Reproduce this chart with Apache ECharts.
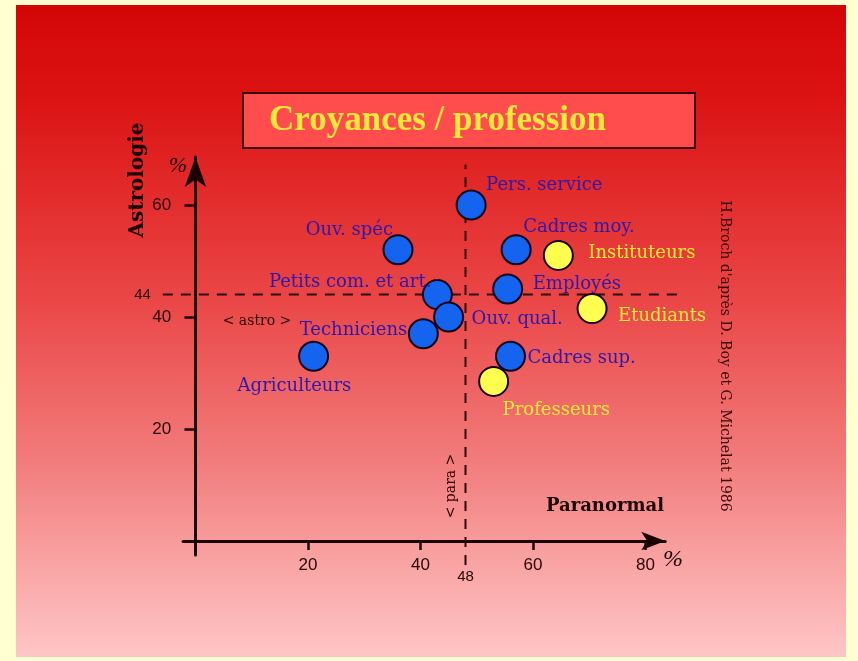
<!DOCTYPE html>
<html><head><meta charset="utf-8">
<script src="https://cdn.jsdelivr.net/npm/echarts@6/dist/echarts.min.js"></script>
<style>html,body{margin:0;padding:0;background:#FFFFD2}#c{width:858px;height:661px}</style>
</head><body><div id="c"></div>
<script>
// ---- data ----
const categories = ['Pers. service','Ouv. spéc','Cadres moy.','Instituteurs','Petits com. et art.','Employés','Ouv. qual.','Etudiants','Techniciens','Agriculteurs','Cadres sup.','Professeurs'];
const paranormal = [49, 36, 57, 64.5, 43, 55.5, 45, 70.5, 40.5, 21, 56, 53];
const astrologie = [60, 52, 52, 51, 44, 45, 40, 41.5, 37, 33, 33, 28.5];
const groups = ['autres','autres','autres','enseignement','autres','autres','autres','enseignement','autres','autres','autres','enseignement'];
const xTicks = [20, 40, 60, 80];
const yTicks = [20, 40, 60];
const meanPara = 48;
const meanAstro = 44;
// extent of the dashed mean lines, in axis units
const meanParaSpan = [-4.3, 67.2];
const meanAstroSpan = [-5.8, 86.7];

// ---- label placement (layout, not data) ----
const labelLayout = {
  'Pers. service': ['left', 15, -20],
  'Ouv. spéc': ['right', -5, -19],
  'Cadres moy.': ['left', 7, -22],
  'Instituteurs': ['left', 30, -2],
  'Petits com. et art.': ['right', -6, -12],
  'Employés': ['left', 25, -5],
  'Ouv. qual.': ['left', 23, 2],
  'Etudiants': ['left', 26, 8],
  'Techniciens': ['right', -16, -3],
  'Agriculteurs': ['left', -76, 30],
  'Cadres sup.': ['left', 17, 2],
  'Professeurs': ['left', 9, 29]
};

function seriesData(group) {
  const out = [];
  categories.forEach((c, i) => {
    if (groups[i] !== group) return;
    const l = labelLayout[c];
    out.push({ name: c, value: [paranormal[i], astrologie[i]],
      label: { align: l[0], offset: [l[1], l[2]] } });
  });
  return out;
}

const axisColor = '#1a0000';
const labelFont = '"DejaVu Serif", "Liberation Serif", serif';

const meanLines = [
  [meanAstroSpan[0], meanAstro, meanAstroSpan[1], meanAstro, String(meanAstro)],
  [meanPara, meanParaSpan[0], meanPara, meanParaSpan[1], String(meanPara)]
];

const chart = echarts.init(document.getElementById('c'), null, { renderer: 'canvas' });
chart.setOption({
  animation: false,
  backgroundColor: '#FFFFD2',
  grid: { left: 183.1, right: 192.8, top: 157, bottom: 106, containLabel: false },
  xAxis: {
    type: 'value', min: -2.2, max: 83.5,
    axisLine: { onZero: true, symbol: ['none', 'arrow'], symbolSize: [14, 24],
      lineStyle: { color: axisColor, width: 3 } },
    axisTick: { customValues: xTicks, length: 9, lineStyle: { color: axisColor, width: 2.5 } },
    axisLabel: { customValues: xTicks, margin: 2, color: '#2a0505',
      fontFamily: '"Liberation Sans", Arial, sans-serif', fontSize: 17 },
    splitLine: { show: false }
  },
  yAxis: {
    type: 'value', min: -2.5, max: 68.57,
    axisLine: { onZero: true, symbol: ['none', 'arrow'], symbolSize: [16, 30],
      lineStyle: { color: axisColor, width: 3 } },
    axisTick: { customValues: yTicks, length: 11, lineStyle: { color: axisColor, width: 2.5 } },
    axisLabel: { customValues: yTicks, margin: 12, color: '#2a0505',
      fontFamily: '"Liberation Sans", Arial, sans-serif', fontSize: 17 },
    splitLine: { show: false }
  },
  graphic: [
    { type: 'rect', z: -10, shape: { x: 16, y: 5, width: 830, height: 652 },
      style: { fill: new echarts.graphic.LinearGradient(0, 0, 0, 1, [
        { offset: 0, color: '#D30606' }, { offset: 0.15, color: '#DC1414' },
        { offset: 0.45, color: '#EA4646' }, { offset: 0.7, color: '#F27C7C' },
        { offset: 0.85, color: '#F9A2A2' }, { offset: 1, color: '#FFC6C6' }]) } },
    { type: 'rect', z: 50, shape: { x: 243, y: 93, width: 452, height: 55 },
      style: { fill: '#FF4C4C', stroke: '#3a0000', lineWidth: 2 } },
    { type: 'text', z: 60, x: 269, y: 121,
      style: { text: 'Croyances / profession', font: 'bold 35px "Liberation Serif", serif',
        fill: '#FFE83A', align: 'left', verticalAlign: 'middle' } },
    { type: 'text', z: 60, x: 138, y: 180, rotation: Math.PI / 2,
      style: { text: 'Astrologie', font: 'bold 20px "DejaVu Serif", serif',
        fill: '#1a0000', align: 'center', verticalAlign: 'middle' } },
    { type: 'text', z: 60, x: 178, y: 166,
      style: { text: '%', font: 'italic 22px "Liberation Serif", serif',
        fill: '#1a0000', align: 'center', verticalAlign: 'middle' } },
    { type: 'text', z: 60, x: 673, y: 560,
      style: { text: '%', font: 'italic 24px "Liberation Serif", serif',
        fill: '#1a0000', align: 'center', verticalAlign: 'middle' } },
    { type: 'text', z: 60, x: 605, y: 506,
      style: { text: 'Paranormal', font: 'bold 18px "DejaVu Serif", serif',
        fill: '#1a0000', align: 'center', verticalAlign: 'middle' } },
    { type: 'text', z: 60, x: 257, y: 321,
      style: { text: '< astro >', font: '14px "DejaVu Serif", serif',
        fill: '#2a0505', align: 'center', verticalAlign: 'middle' } },
    { type: 'text', z: 60, x: 451, y: 486, rotation: Math.PI / 2,
      style: { text: '< para >', font: '14px "DejaVu Serif", serif',
        fill: '#2a0505', align: 'center', verticalAlign: 'middle' } },
    { type: 'text', z: 60, x: 725, y: 356, rotation: -Math.PI / 2,
      style: { text: "H.Broch d'après D. Boy et G. Michelat 1986", font: '14px "DejaVu Serif", serif',
        fill: '#3a0808', align: 'center', verticalAlign: 'middle' } }
  ],
  series: [
    {
      type: 'custom', name: 'moyennes', clip: false, silent: true, z: 1,
      encode: { x: [0, 2], y: [1, 3] },
      data: meanLines,
      renderItem: function (params, api) {
        const p1 = api.coord([api.value(0), api.value(1)]);
        const p2 = api.coord([api.value(2), api.value(3)]);
        const horizontal = Math.abs(p1[1] - p2[1]) < 1;
        return {
          type: 'group',
          children: [
            { type: 'line', shape: { x1: p1[0], y1: p1[1], x2: p2[0], y2: p2[1] },
              style: { stroke: '#2a0606', lineWidth: 2, lineDash: [10, 8] } },
            { type: 'text',
              x: horizontal ? p1[0] - 12 : p1[0],
              y: horizontal ? p1[1] : p1[1] + 4,
              style: { text: api.value(4), fill: '#2a0505',
                font: '15px "Liberation Sans", Arial, sans-serif',
                align: horizontal ? 'right' : 'center',
                verticalAlign: horizontal ? 'middle' : 'top' } }
          ]
        };
      }
    },
    {
      type: 'scatter', name: 'autres', clip: false, symbolSize: 29, z: 3,
      itemStyle: { color: '#1464F0', borderColor: '#180018', borderWidth: 2, opacity: 1 },
      label: { show: true, position: 'inside', formatter: p => p.name, color: '#3018AC',
        fontFamily: labelFont, fontSize: 18, verticalAlign: 'middle' },
      data: seriesData('autres')
    },
    {
      type: 'scatter', name: 'enseignement', clip: false, symbolSize: 29, z: 3,
      itemStyle: { color: '#FFFF50', borderColor: '#180018', borderWidth: 2, opacity: 1 },
      label: { show: true, position: 'inside', formatter: p => p.name, color: '#FFEA34',
        fontFamily: labelFont, fontSize: 18, verticalAlign: 'middle' },
      data: seriesData('enseignement')
    }
  ]
});
</script>
</body></html>
